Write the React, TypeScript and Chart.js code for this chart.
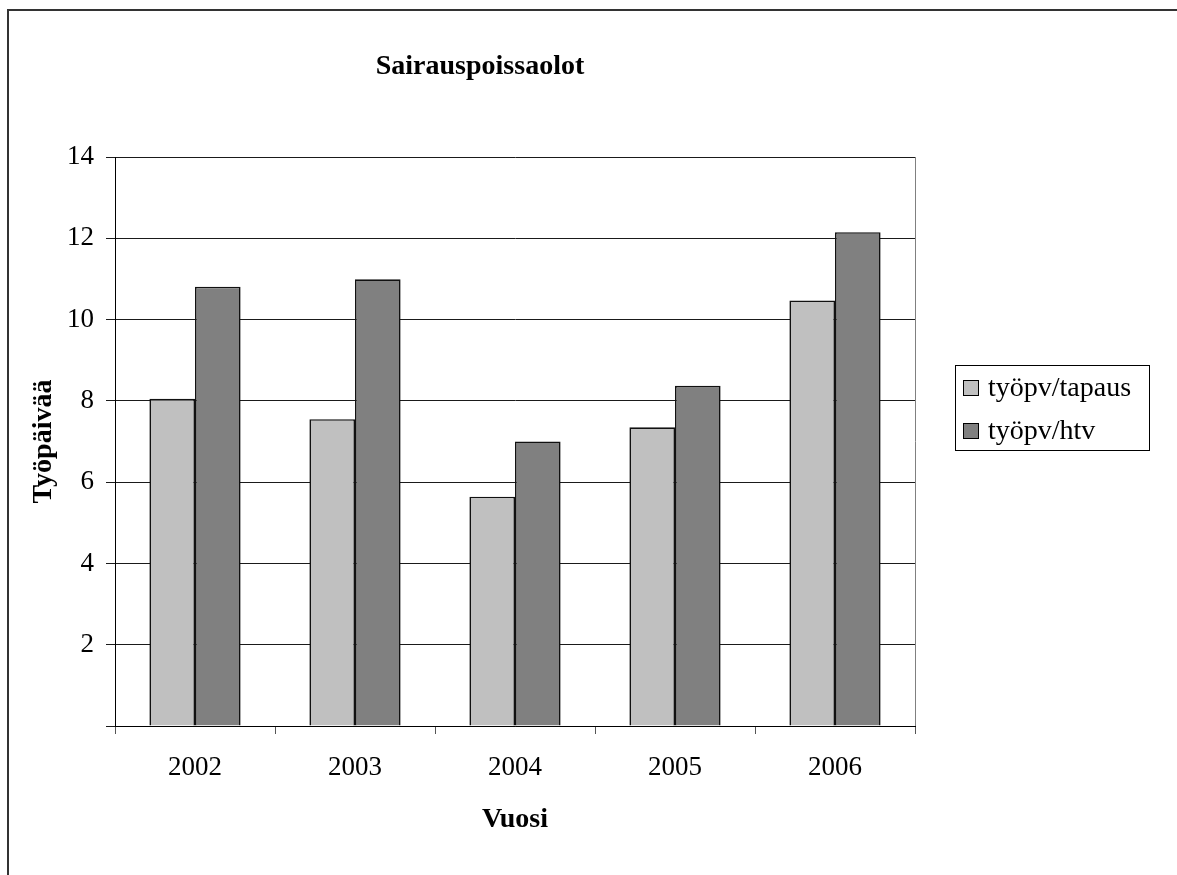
import React, { useEffect, useRef } from 'react';
import { Chart, registerables } from 'chart.js';

Chart.register(...registerables);

const years = ['2002', '2003', '2004', '2005', '2006'];
const tapausValues = [8.05, 7.55, 5.64, 7.35, 10.47];
const htvValues = [10.81, 10.99, 7.0, 8.37, 12.15];
const seriesLabels = ['työpv/tapaus', 'työpv/htv'];
const seriesColors = ['#C0C0C0', '#808080'];
const chartTitle = 'Sairauspoissaolot';
const yAxisTitle = 'Työpäivää';
const xAxisTitle = 'Vuosi';
const yMin = 0;
const yMax = 14;
const yStep = 2;

const FONT = '"Liberation Serif", "Times New Roman", serif';
const W = 1177;
const H = 875;

const decorPlugin = {
  id: 'decor',
  beforeDraw(chart: any) {
    const { ctx, width, height } = chart;
    ctx.save();
    ctx.fillStyle = '#ffffff';
    ctx.fillRect(0, 0, width, height);
    ctx.fillStyle = '#333333';
    ctx.fillRect(7, 9, width, 2);
    ctx.fillRect(7, 9, 2, height);
    ctx.restore();
  },
  afterDraw(chart: any) {
    const { ctx, chartArea } = chart;
    ctx.save();
    // plot area right border
    const rx = Math.round(chartArea.right) + 0.5;
    ctx.strokeStyle = '#808080';
    ctx.lineWidth = 1;
    ctx.beginPath();
    ctx.moveTo(rx, chartArea.top);
    ctx.lineTo(rx, chartArea.bottom);
    ctx.stroke();

    // title
    ctx.font = `bold 28px ${FONT}`;
    ctx.fillStyle = '#000';
    ctx.textAlign = 'center';
    ctx.textBaseline = 'alphabetic';
    ctx.fillText(chartTitle, 480, 74);

    // legend
    const lx = 955;
    const ly = 365;
    ctx.strokeStyle = '#000';
    ctx.lineWidth = 1;
    ctx.strokeRect(lx + 0.5, ly + 0.5, 194, 85);
    const rows = [388, 431];
    ctx.font = `28px ${FONT}`;
    ctx.textAlign = 'left';
    chart.data.datasets.forEach((ds: any, i: number) => {
      const cy = rows[i];
      ctx.fillStyle = ds.backgroundColor;
      ctx.fillRect(963, cy - 8, 16, 16);
      ctx.strokeStyle = '#000';
      ctx.strokeRect(963.5, cy - 7.5, 15, 15);
      ctx.fillStyle = '#000';
      ctx.fillText(ds.label, 988, cy + 8);
    });
    ctx.restore();
  },
};

export default function App() {
  const ref = useRef<HTMLCanvasElement | null>(null);

  useEffect(() => {
    if (!ref.current) return;
    const chart = new Chart(ref.current, {
      type: 'bar',
      data: {
        labels: years,
        datasets: [
          {
            label: seriesLabels[0],
            data: tapausValues,
            backgroundColor: seriesColors[0],
            borderColor: '#111',
            borderWidth: 1.6,
          },
          {
            label: seriesLabels[1],
            data: htvValues,
            backgroundColor: seriesColors[1],
            borderColor: '#111',
            borderWidth: 1.6,
          },
        ],
      },
      options: {
        responsive: false,
        animation: false,
        layout: { padding: { top: 157, right: 262, left: 0, bottom: 0 } },
        plugins: {
          legend: { display: false },
          title: { display: false },
          tooltip: { enabled: false },
        },
        datasets: {
          bar: { categoryPercentage: 0.57, barPercentage: 1 },
        },
        scales: {
          x: {
            afterFit: (scale: any) => {
              scale.height = 149;
            },
            grid: {
              display: true,
              drawOnChartArea: false,
              drawTicks: true,
              offset: true,
              tickLength: 8,
              color: '#555',
            },
            border: { display: true, color: '#000', width: 1 },
            ticks: {
              color: '#000',
              padding: 18,
              font: { family: FONT, size: 27 },
            },
            title: {
              display: true,
              text: xAxisTitle,
              color: '#000',
              font: { family: FONT, size: 28, weight: 'bold' },
              padding: { top: 0, bottom: 38 },
            },
          },
          y: {
            min: yMin,
            max: yMax,
            afterFit: (scale: any) => {
              scale.width = 115;
            },
            grid: {
              color: '#1a1a1a',
              lineWidth: 1,
              drawTicks: true,
              tickLength: 9,
            },
            border: { display: true, color: '#000', width: 1 },
            ticks: {
              stepSize: yStep,
              color: '#000',
              padding: 12,
              font: { family: FONT, size: 27 },
              callback: (v: any) => (Number(v) === 0 ? '' : String(v)),
            },
            title: {
              display: true,
              text: yAxisTitle,
              color: '#000',
              font: { family: FONT, size: 28, weight: 'bold' },
              padding: { top: 27, bottom: 0 },
            },
          },
        },
      },
      plugins: [decorPlugin],
    });
    return () => chart.destroy();
  }, []);

  return (
    <canvas
      ref={ref}
      width={W}
      height={H}
      style={{ display: 'block', position: 'fixed', left: 0, top: 0 }}
    />
  );
}
